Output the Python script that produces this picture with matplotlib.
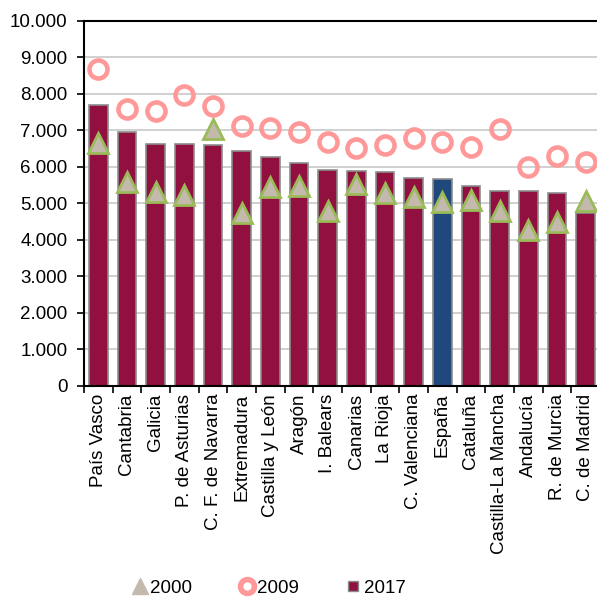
import numpy as np
import matplotlib.pyplot as plt
from matplotlib.lines import Line2D
from matplotlib.ticker import FuncFormatter

regiones = ['País Vasco', 'Cantabria', 'Galicia', 'P. de Asturias', 'C. F. de Navarra',
            'Extremadura', 'Castilla y León', 'Aragón', 'I. Balears', 'Canarias',
            'La Rioja', 'C. Valenciana', 'España', 'Cataluña', 'Castilla-La Mancha',
            'Andalucía', 'R. de Murcia', 'C. de Madrid']
v2017 = [7690, 6960, 6620, 6620, 6580, 6430, 6270, 6110, 5910, 5880,
         5850, 5700, 5660, 5470, 5330, 5320, 5270, 4740]
v2009 = [8680, 7580, 7530, 7960, 7660, 7120, 7050, 6960, 6680, 6500,
         6590, 6790, 6670, 6550, 7020, 5980, 6300, 6140]
v2000 = [6660, 5580, 5300, 5220, 7030, 4720, 5430, 5480, 4780, 5530,
         5290, 5170, 5040, 5090, 4780, 4270, 4490, 5060]

plt.rcParams['font.family'] = ['Liberation Sans', 'DejaVu Sans']

fig = plt.figure(figsize=(5.97, 5.99), dpi=100)
ax = fig.add_axes([84 / 597, 1 - 385.5 / 599, 516 / 597, 364.8 / 599])

x = np.arange(len(regiones))
colores = ['#1F497D' if r == 'España' else '#921040' for r in regiones]
ax.bar(x, v2017, width=0.66, color=colores, edgecolor='#8C8C8C', linewidth=1.2, zorder=2)
ax.plot(x, v2009, linestyle='none', marker='o', markersize=13, markerfacecolor='none',
        markeredgecolor='#FF9999', markeredgewidth=3.3, zorder=3)
ax.plot(x, v2000, linestyle='none', marker='^', markersize=15, markerfacecolor='#C4B9AD',
        markeredgecolor='#9BBB59', markeredgewidth=2, zorder=4)

ax.set_xlim(-0.5, len(regiones) - 0.5)
ax.set_ylim(0, 10000)
ax.set_yticks(np.arange(0, 10001, 1000))
ax.yaxis.set_major_formatter(FuncFormatter(lambda v, p: f'{int(v):,}'.replace(',', '.')))
ax.tick_params(axis='y', labelsize=13.5, length=5, width=1.2, direction='out', pad=7)
ax.grid(axis='y', color='#C8C8C8', linewidth=1.2, zorder=0)
ax.set_axisbelow(True)

ax.set_xticks(x)
ax.set_xticklabels(regiones, rotation=90, fontsize=13.5)
ax.set_xticks(np.arange(-0.5, len(regiones), 1), minor=True)
ax.tick_params(axis='x', which='major', length=0, pad=6)
ax.tick_params(axis='x', which='minor', length=5, width=1.2, direction='out')

for s in ['left', 'bottom', 'top']:
    ax.spines[s].set_linewidth(1.5)
ax.spines['right'].set_visible(False)

handles = [
    Line2D([], [], linestyle='none', marker='^', markersize=12,
           markerfacecolor='#C4B9AD', markeredgecolor='#C4B9AD'),
    Line2D([], [], linestyle='none', marker='o', markersize=10,
           markerfacecolor='white', markeredgecolor='#FF9999', markeredgewidth=4),
    Line2D([], [], linestyle='none', marker='s', markersize=7.5,
           markerfacecolor='#921040', markeredgecolor='#8C8C8C', markeredgewidth=1),
]
fig.legend(handles, ['2000', '2009', '2017'],
           loc='center', bbox_to_anchor=(269 / 597, 1 - 588 / 599), ncol=3,
           frameon=False, fontsize=13.5, handlelength=0.8, handletextpad=0.15,
           columnspacing=2.5)

fig.savefig('out.png', dpi=100)
